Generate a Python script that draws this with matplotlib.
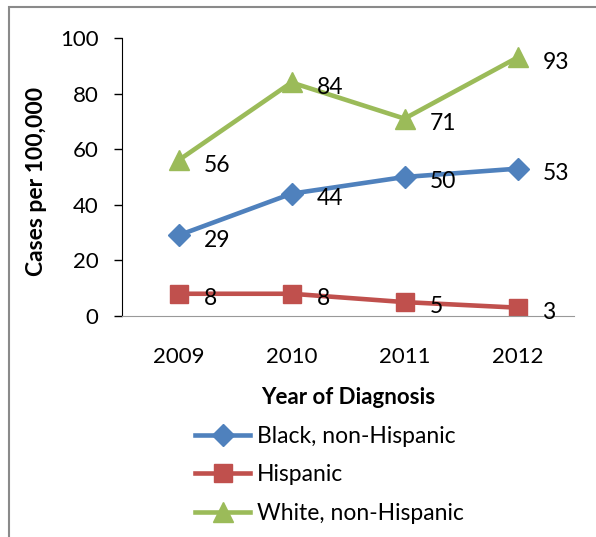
import matplotlib.pyplot as plt
from matplotlib.patches import Rectangle

plt.rcParams['font.family'] = ['Lato', 'DejaVu Sans']

years = ['2009', '2010', '2011', '2012']
black = [29, 44, 50, 53]
hispanic = [8, 8, 5, 3]
white = [56, 84, 71, 93]
series_names = ['Black, non-Hispanic', 'Hispanic', 'White, non-Hispanic']

fig = plt.figure(figsize=(5.96, 5.37), dpi=100)
ax = fig.add_axes([122/596, 1-316/537, 452/596, 278/537])

x = range(len(years))
ax.plot(x, black, color='#4F81BD', lw=3.3, marker='D', ms=11, label=series_names[0])
ax.plot(x, hispanic, color='#C0504D', lw=3.3, marker='s', ms=13, label=series_names[1])
ax.plot(x, white, color='#9BBB59', lw=3.3, marker='^', ms=14, label=series_names[2])

# data labels to the right of each point
for vals in [black, hispanic, white]:
    for i, v in enumerate(vals):
        ax.annotate(str(v), (i, v), xytext=(18, -3.5), textcoords='offset points',
                    ha='left', va='center', fontsize=16.5)

ax.set_xlim(-0.5, 3.5)
ax.set_ylim(0, 100)
ax.set_yticks(range(0, 101, 20))
ax.set_xticks(list(x))
ax.set_xticklabels(years)
ax.tick_params(axis='y', labelsize=16, length=6, direction='out', width=1, pad=11)
ax.tick_params(axis='x', labelsize=16, length=0, pad=22)
ax.spines['top'].set_visible(False)
ax.spines['right'].set_visible(False)
ax.spines['bottom'].set_color('#999999')
ax.set_xlabel('Year of Diagnosis', fontsize=16, fontweight='bold')
ax.set_ylabel('Cases per 100,000', fontsize=16.5, fontweight='bold')
ax.xaxis.set_label_coords(0.5, -0.255)
ax.yaxis.set_label_coords(-0.166, 0.485)

fig.legend(loc='upper left', bbox_to_anchor=(186/596, 1-417/537), frameon=False,
           fontsize=16.5, handlelength=2.4, labelspacing=0.75, borderaxespad=0,
           handletextpad=0.3)

# outer chart border
fig.patches.append(Rectangle((9/596, -0.1), 1.2, 1.1 - 7/537, transform=fig.transFigure,
                             fill=False, edgecolor='#8a8a8a', lw=1.5))

fig.savefig('out.png', dpi=100)
